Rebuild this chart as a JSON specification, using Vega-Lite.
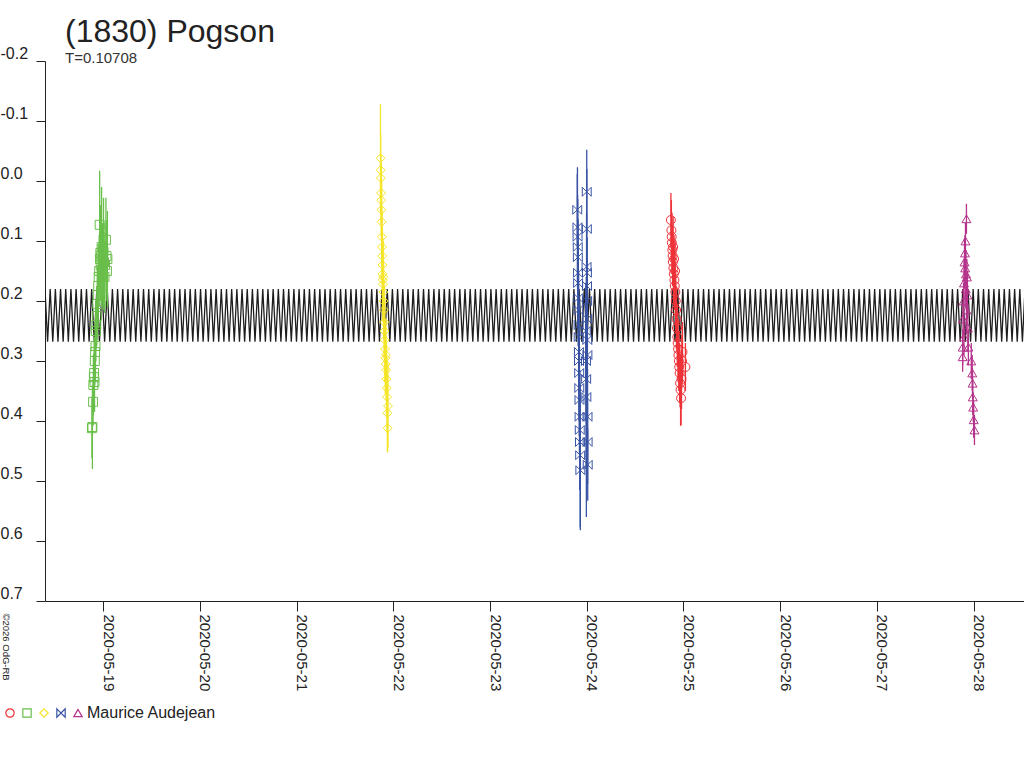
{
  "$schema": "https://vega.github.io/schema/vega-lite/v6.json",
  "width": 979,
  "height": 540,
  "autosize": {"type": "none"},
  "padding": {"left": 45, "top": 61, "right": 0, "bottom": 167},
  "background": "white",
  "view": {"stroke": null},
  "title": {
    "text": "(1830) Pogson",
    "subtitle": "T=0.10708",
    "anchor": "start",
    "frame": "group",
    "dx": 20,
    "offset": -22,
    "font": "Liberation Sans",
    "fontSize": 32,
    "fontWeight": "normal",
    "color": "#222",
    "subtitleFont": "Liberation Sans",
    "subtitleFontSize": 15,
    "subtitleColor": "#333",
    "subtitlePadding": 2
  },
  "datasets": {
    "model": [
      {"d":18.4000,"m":0.18},{"d":18.4268,"m":0.268},{"d":18.4536,"m":0.18},{"d":18.4804,"m":0.268},{"d":18.5072,"m":0.18},{"d":18.5340,"m":0.268},{"d":18.5608,"m":0.18},{"d":18.5876,"m":0.268},{"d":18.6144,"m":0.18},{"d":18.6412,"m":0.268},
      {"d":18.6680,"m":0.18},{"d":18.6948,"m":0.268},{"d":18.7216,"m":0.18},{"d":18.7484,"m":0.268},{"d":18.7752,"m":0.18},{"d":18.8020,"m":0.268},{"d":18.8288,"m":0.18},{"d":18.8556,"m":0.268},{"d":18.8824,"m":0.18},{"d":18.9092,"m":0.268},
      {"d":18.9360,"m":0.18},{"d":18.9628,"m":0.268},{"d":18.9896,"m":0.18},{"d":19.0164,"m":0.268},{"d":19.0432,"m":0.18},{"d":19.0700,"m":0.268},{"d":19.0968,"m":0.18},{"d":19.1236,"m":0.268},{"d":19.1504,"m":0.18},{"d":19.1772,"m":0.268},
      {"d":19.2040,"m":0.18},{"d":19.2308,"m":0.268},{"d":19.2576,"m":0.18},{"d":19.2844,"m":0.268},{"d":19.3112,"m":0.18},{"d":19.3380,"m":0.268},{"d":19.3648,"m":0.18},{"d":19.3916,"m":0.268},{"d":19.4184,"m":0.18},{"d":19.4452,"m":0.268},
      {"d":19.4720,"m":0.18},{"d":19.4988,"m":0.268},{"d":19.5256,"m":0.18},{"d":19.5524,"m":0.268},{"d":19.5792,"m":0.18},{"d":19.6060,"m":0.268},{"d":19.6328,"m":0.18},{"d":19.6596,"m":0.268},{"d":19.6864,"m":0.18},{"d":19.7132,"m":0.268},
      {"d":19.7400,"m":0.18},{"d":19.7668,"m":0.268},{"d":19.7936,"m":0.18},{"d":19.8204,"m":0.268},{"d":19.8472,"m":0.18},{"d":19.8740,"m":0.268},{"d":19.9008,"m":0.18},{"d":19.9276,"m":0.268},{"d":19.9544,"m":0.18},{"d":19.9812,"m":0.268},
      {"d":20.0080,"m":0.18},{"d":20.0348,"m":0.268},{"d":20.0616,"m":0.18},{"d":20.0884,"m":0.268},{"d":20.1152,"m":0.18},{"d":20.1420,"m":0.268},{"d":20.1688,"m":0.18},{"d":20.1956,"m":0.268},{"d":20.2224,"m":0.18},{"d":20.2492,"m":0.268},
      {"d":20.2760,"m":0.18},{"d":20.3028,"m":0.268},{"d":20.3296,"m":0.18},{"d":20.3564,"m":0.268},{"d":20.3832,"m":0.18},{"d":20.4100,"m":0.268},{"d":20.4368,"m":0.18},{"d":20.4636,"m":0.268},{"d":20.4904,"m":0.18},{"d":20.5172,"m":0.268},
      {"d":20.5440,"m":0.18},{"d":20.5708,"m":0.268},{"d":20.5976,"m":0.18},{"d":20.6244,"m":0.268},{"d":20.6512,"m":0.18},{"d":20.6780,"m":0.268},{"d":20.7048,"m":0.18},{"d":20.7316,"m":0.268},{"d":20.7584,"m":0.18},{"d":20.7852,"m":0.268},
      {"d":20.8120,"m":0.18},{"d":20.8388,"m":0.268},{"d":20.8656,"m":0.18},{"d":20.8924,"m":0.268},{"d":20.9192,"m":0.18},{"d":20.9460,"m":0.268},{"d":20.9728,"m":0.18},{"d":20.9996,"m":0.268},{"d":21.0264,"m":0.18},{"d":21.0532,"m":0.268},
      {"d":21.0800,"m":0.18},{"d":21.1068,"m":0.268},{"d":21.1336,"m":0.18},{"d":21.1604,"m":0.268},{"d":21.1872,"m":0.18},{"d":21.2140,"m":0.268},{"d":21.2408,"m":0.18},{"d":21.2676,"m":0.268},{"d":21.2944,"m":0.18},{"d":21.3212,"m":0.268},
      {"d":21.3480,"m":0.18},{"d":21.3748,"m":0.268},{"d":21.4016,"m":0.18},{"d":21.4284,"m":0.268},{"d":21.4552,"m":0.18},{"d":21.4820,"m":0.268},{"d":21.5088,"m":0.18},{"d":21.5356,"m":0.268},{"d":21.5624,"m":0.18},{"d":21.5892,"m":0.268},
      {"d":21.6160,"m":0.18},{"d":21.6428,"m":0.268},{"d":21.6696,"m":0.18},{"d":21.6964,"m":0.268},{"d":21.7232,"m":0.18},{"d":21.7500,"m":0.268},{"d":21.7768,"m":0.18},{"d":21.8036,"m":0.268},{"d":21.8304,"m":0.18},{"d":21.8572,"m":0.268},
      {"d":21.8840,"m":0.18},{"d":21.9108,"m":0.268},{"d":21.9376,"m":0.18},{"d":21.9644,"m":0.268},{"d":21.9912,"m":0.18},{"d":22.0180,"m":0.268},{"d":22.0448,"m":0.18},{"d":22.0716,"m":0.268},{"d":22.0984,"m":0.18},{"d":22.1252,"m":0.268},
      {"d":22.1520,"m":0.18},{"d":22.1788,"m":0.268},{"d":22.2056,"m":0.18},{"d":22.2324,"m":0.268},{"d":22.2592,"m":0.18},{"d":22.2860,"m":0.268},{"d":22.3128,"m":0.18},{"d":22.3396,"m":0.268},{"d":22.3664,"m":0.18},{"d":22.3932,"m":0.268},
      {"d":22.4200,"m":0.18},{"d":22.4468,"m":0.268},{"d":22.4736,"m":0.18},{"d":22.5004,"m":0.268},{"d":22.5272,"m":0.18},{"d":22.5540,"m":0.268},{"d":22.5808,"m":0.18},{"d":22.6076,"m":0.268},{"d":22.6344,"m":0.18},{"d":22.6612,"m":0.268},
      {"d":22.6880,"m":0.18},{"d":22.7148,"m":0.268},{"d":22.7416,"m":0.18},{"d":22.7684,"m":0.268},{"d":22.7952,"m":0.18},{"d":22.8220,"m":0.268},{"d":22.8488,"m":0.18},{"d":22.8756,"m":0.268},{"d":22.9024,"m":0.18},{"d":22.9292,"m":0.268},
      {"d":22.9560,"m":0.18},{"d":22.9828,"m":0.268},{"d":23.0096,"m":0.18},{"d":23.0364,"m":0.268},{"d":23.0632,"m":0.18},{"d":23.0900,"m":0.268},{"d":23.1168,"m":0.18},{"d":23.1436,"m":0.268},{"d":23.1704,"m":0.18},{"d":23.1972,"m":0.268},
      {"d":23.2240,"m":0.18},{"d":23.2508,"m":0.268},{"d":23.2776,"m":0.18},{"d":23.3044,"m":0.268},{"d":23.3312,"m":0.18},{"d":23.3580,"m":0.268},{"d":23.3848,"m":0.18},{"d":23.4116,"m":0.268},{"d":23.4384,"m":0.18},{"d":23.4652,"m":0.268},
      {"d":23.4920,"m":0.18},{"d":23.5188,"m":0.268},{"d":23.5456,"m":0.18},{"d":23.5724,"m":0.268},{"d":23.5992,"m":0.18},{"d":23.6260,"m":0.268},{"d":23.6528,"m":0.18},{"d":23.6796,"m":0.268},{"d":23.7064,"m":0.18},{"d":23.7332,"m":0.268},
      {"d":23.7600,"m":0.18},{"d":23.7868,"m":0.268},{"d":23.8136,"m":0.18},{"d":23.8404,"m":0.268},{"d":23.8672,"m":0.18},{"d":23.8940,"m":0.268},{"d":23.9208,"m":0.18},{"d":23.9476,"m":0.268},{"d":23.9744,"m":0.18},{"d":24.0012,"m":0.268},
      {"d":24.0280,"m":0.18},{"d":24.0548,"m":0.268},{"d":24.0816,"m":0.18},{"d":24.1084,"m":0.268},{"d":24.1352,"m":0.18},{"d":24.1620,"m":0.268},{"d":24.1888,"m":0.18},{"d":24.2156,"m":0.268},{"d":24.2424,"m":0.18},{"d":24.2692,"m":0.268},
      {"d":24.2960,"m":0.18},{"d":24.3228,"m":0.268},{"d":24.3496,"m":0.18},{"d":24.3764,"m":0.268},{"d":24.4032,"m":0.18},{"d":24.4300,"m":0.268},{"d":24.4568,"m":0.18},{"d":24.4836,"m":0.268},{"d":24.5104,"m":0.18},{"d":24.5372,"m":0.268},
      {"d":24.5640,"m":0.18},{"d":24.5908,"m":0.268},{"d":24.6176,"m":0.18},{"d":24.6444,"m":0.268},{"d":24.6712,"m":0.18},{"d":24.6980,"m":0.268},{"d":24.7248,"m":0.18},{"d":24.7516,"m":0.268},{"d":24.7784,"m":0.18},{"d":24.8052,"m":0.268},
      {"d":24.8320,"m":0.18},{"d":24.8588,"m":0.268},{"d":24.8856,"m":0.18},{"d":24.9124,"m":0.268},{"d":24.9392,"m":0.18},{"d":24.9660,"m":0.268},{"d":24.9928,"m":0.18},{"d":25.0196,"m":0.268},{"d":25.0464,"m":0.18},{"d":25.0732,"m":0.268},
      {"d":25.1000,"m":0.18},{"d":25.1268,"m":0.268},{"d":25.1536,"m":0.18},{"d":25.1804,"m":0.268},{"d":25.2072,"m":0.18},{"d":25.2340,"m":0.268},{"d":25.2608,"m":0.18},{"d":25.2876,"m":0.268},{"d":25.3144,"m":0.18},{"d":25.3412,"m":0.268},
      {"d":25.3680,"m":0.18},{"d":25.3948,"m":0.268},{"d":25.4216,"m":0.18},{"d":25.4484,"m":0.268},{"d":25.4752,"m":0.18},{"d":25.5020,"m":0.268},{"d":25.5288,"m":0.18},{"d":25.5556,"m":0.268},{"d":25.5824,"m":0.18},{"d":25.6092,"m":0.268},
      {"d":25.6360,"m":0.18},{"d":25.6628,"m":0.268},{"d":25.6896,"m":0.18},{"d":25.7164,"m":0.268},{"d":25.7432,"m":0.18},{"d":25.7700,"m":0.268},{"d":25.7968,"m":0.18},{"d":25.8236,"m":0.268},{"d":25.8504,"m":0.18},{"d":25.8772,"m":0.268},
      {"d":25.9040,"m":0.18},{"d":25.9308,"m":0.268},{"d":25.9576,"m":0.18},{"d":25.9844,"m":0.268},{"d":26.0112,"m":0.18},{"d":26.0380,"m":0.268},{"d":26.0648,"m":0.18},{"d":26.0916,"m":0.268},{"d":26.1184,"m":0.18},{"d":26.1452,"m":0.268},
      {"d":26.1720,"m":0.18},{"d":26.1988,"m":0.268},{"d":26.2256,"m":0.18},{"d":26.2524,"m":0.268},{"d":26.2792,"m":0.18},{"d":26.3060,"m":0.268},{"d":26.3328,"m":0.18},{"d":26.3596,"m":0.268},{"d":26.3864,"m":0.18},{"d":26.4132,"m":0.268},
      {"d":26.4400,"m":0.18},{"d":26.4668,"m":0.268},{"d":26.4936,"m":0.18},{"d":26.5204,"m":0.268},{"d":26.5472,"m":0.18},{"d":26.5740,"m":0.268},{"d":26.6008,"m":0.18},{"d":26.6276,"m":0.268},{"d":26.6544,"m":0.18},{"d":26.6812,"m":0.268},
      {"d":26.7080,"m":0.18},{"d":26.7348,"m":0.268},{"d":26.7616,"m":0.18},{"d":26.7884,"m":0.268},{"d":26.8152,"m":0.18},{"d":26.8420,"m":0.268},{"d":26.8688,"m":0.18},{"d":26.8956,"m":0.268},{"d":26.9224,"m":0.18},{"d":26.9492,"m":0.268},
      {"d":26.9760,"m":0.18},{"d":27.0028,"m":0.268},{"d":27.0296,"m":0.18},{"d":27.0564,"m":0.268},{"d":27.0832,"m":0.18},{"d":27.1100,"m":0.268},{"d":27.1368,"m":0.18},{"d":27.1636,"m":0.268},{"d":27.1904,"m":0.18},{"d":27.2172,"m":0.268},
      {"d":27.2440,"m":0.18},{"d":27.2708,"m":0.268},{"d":27.2976,"m":0.18},{"d":27.3244,"m":0.268},{"d":27.3512,"m":0.18},{"d":27.3780,"m":0.268},{"d":27.4048,"m":0.18},{"d":27.4316,"m":0.268},{"d":27.4584,"m":0.18},{"d":27.4852,"m":0.268},
      {"d":27.5120,"m":0.18},{"d":27.5388,"m":0.268},{"d":27.5656,"m":0.18},{"d":27.5924,"m":0.268},{"d":27.6192,"m":0.18},{"d":27.6460,"m":0.268},{"d":27.6728,"m":0.18},{"d":27.6996,"m":0.268},{"d":27.7264,"m":0.18},{"d":27.7532,"m":0.268},
      {"d":27.7800,"m":0.18},{"d":27.8068,"m":0.268},{"d":27.8336,"m":0.18},{"d":27.8604,"m":0.268},{"d":27.8872,"m":0.18},{"d":27.9140,"m":0.268},{"d":27.9408,"m":0.18},{"d":27.9676,"m":0.268},{"d":27.9944,"m":0.18},{"d":28.0212,"m":0.268},
      {"d":28.0480,"m":0.18},{"d":28.0748,"m":0.268},{"d":28.1016,"m":0.18},{"d":28.1284,"m":0.268},{"d":28.1552,"m":0.18},{"d":28.1820,"m":0.268},{"d":28.2088,"m":0.18},{"d":28.2356,"m":0.268},{"d":28.2624,"m":0.18},{"d":28.2892,"m":0.268},
      {"d":28.3160,"m":0.18},{"d":28.3428,"m":0.268},{"d":28.3696,"m":0.18},{"d":28.3964,"m":0.268},{"d":28.4232,"m":0.18},{"d":28.4500,"m":0.268},{"d":28.4768,"m":0.18},{"d":28.5036,"m":0.268},{"d":28.5304,"m":0.18}
    ],
    "obs": [
      {"s":"s2","d":18.885,"m":0.412,"e":0.05},{"s":"s2","d":18.890,"m":0.410,"e":0.07},{"s":"s2","d":18.897,"m":0.368,"e":0.04},{"s":"s2","d":18.900,"m":0.340,"e":0.05},
      {"s":"s2","d":18.905,"m":0.327,"e":0.04},{"s":"s2","d":18.908,"m":0.320,"e":0.06},{"s":"s2","d":18.912,"m":0.335,"e":0.05},{"s":"s2","d":18.915,"m":0.300,"e":0.04},
      {"s":"s2","d":18.918,"m":0.285,"e":0.05},{"s":"s2","d":18.922,"m":0.275,"e":0.06},{"s":"s2","d":18.925,"m":0.250,"e":0.05},{"s":"s2","d":18.930,"m":0.240,"e":0.04},
      {"s":"s2","d":18.935,"m":0.225,"e":0.05},{"s":"s2","d":18.940,"m":0.205,"e":0.06},{"s":"s2","d":18.945,"m":0.190,"e":0.05},{"s":"s2","d":18.950,"m":0.175,"e":0.07},
      {"s":"s2","d":18.955,"m":0.160,"e":0.05},{"s":"s2","d":18.960,"m":0.150,"e":0.06},{"s":"s2","d":18.965,"m":0.073,"e":0.09},{"s":"s2","d":18.968,"m":0.130,"e":0.05},
      {"s":"s2","d":18.972,"m":0.120,"e":0.08},{"s":"s2","d":18.976,"m":0.140,"e":0.06},{"s":"s2","d":18.980,"m":0.125,"e":0.05},{"s":"s2","d":18.985,"m":0.110,"e":0.10},
      {"s":"s2","d":18.990,"m":0.155,"e":0.05},{"s":"s2","d":18.995,"m":0.130,"e":0.06},{"s":"s2","d":19.000,"m":0.145,"e":0.07},{"s":"s2","d":19.005,"m":0.118,"e":0.09},
      {"s":"s2","d":19.010,"m":0.135,"e":0.05},{"s":"s2","d":19.015,"m":0.160,"e":0.06},{"s":"s2","d":19.020,"m":0.140,"e":0.07},{"s":"s2","d":19.030,"m":0.098,"e":0.07},
      {"s":"s2","d":19.035,"m":0.125,"e":0.06},{"s":"s2","d":19.040,"m":0.150,"e":0.05},{"s":"s2","d":19.045,"m":0.130,"e":0.08},

      {"s":"s3","d":21.868,"m":-0.038,"e":0.09},{"s":"s3","d":21.870,"m":-0.018,"e":0.06},{"s":"s3","d":21.872,"m":-0.005,"e":0.04},{"s":"s3","d":21.874,"m":0.020,"e":0.05},
      {"s":"s3","d":21.876,"m":0.032,"e":0.06},{"s":"s3","d":21.878,"m":0.048,"e":0.05},{"s":"s3","d":21.880,"m":0.068,"e":0.07},{"s":"s3","d":21.882,"m":0.093,"e":0.05},
      {"s":"s3","d":21.884,"m":0.110,"e":0.06},{"s":"s3","d":21.886,"m":0.125,"e":0.05},{"s":"s3","d":21.888,"m":0.140,"e":0.06},{"s":"s3","d":21.890,"m":0.155,"e":0.05},
      {"s":"s3","d":21.892,"m":0.165,"e":0.07},{"s":"s3","d":21.894,"m":0.172,"e":0.05},{"s":"s3","d":21.896,"m":0.160,"e":0.06},{"s":"s3","d":21.898,"m":0.185,"e":0.05},
      {"s":"s3","d":21.900,"m":0.200,"e":0.06},{"s":"s3","d":21.903,"m":0.215,"e":0.05},{"s":"s3","d":21.906,"m":0.235,"e":0.06},{"s":"s3","d":21.909,"m":0.250,"e":0.05},
      {"s":"s3","d":21.912,"m":0.265,"e":0.07},{"s":"s3","d":21.915,"m":0.280,"e":0.05},{"s":"s3","d":21.918,"m":0.295,"e":0.06},{"s":"s3","d":21.921,"m":0.305,"e":0.05},
      {"s":"s3","d":21.924,"m":0.290,"e":0.06},{"s":"s3","d":21.927,"m":0.315,"e":0.05},{"s":"s3","d":21.930,"m":0.330,"e":0.06},{"s":"s3","d":21.933,"m":0.345,"e":0.05},
      {"s":"s3","d":21.936,"m":0.360,"e":0.06},{"s":"s3","d":21.939,"m":0.387,"e":0.065},{"s":"s3","d":21.942,"m":0.412,"e":0.04},{"s":"s3","d":21.945,"m":0.375,"e":0.07},

      {"s":"s4","d":23.902,"m":0.048,"e":0.06},{"s":"s4","d":23.904,"m":0.077,"e":0.10},{"s":"s4","d":23.905,"m":0.093,"e":0.07},{"s":"s4","d":23.907,"m":0.110,"e":0.08},
      {"s":"s4","d":23.908,"m":0.127,"e":0.06},{"s":"s4","d":23.910,"m":0.153,"e":0.09},{"s":"s4","d":23.911,"m":0.170,"e":0.07},{"s":"s4","d":23.913,"m":0.195,"e":0.08},
      {"s":"s4","d":23.914,"m":0.215,"e":0.06},{"s":"s4","d":23.916,"m":0.240,"e":0.09},{"s":"s4","d":23.917,"m":0.260,"e":0.07},{"s":"s4","d":23.919,"m":0.285,"e":0.08},
      {"s":"s4","d":23.920,"m":0.300,"e":0.10},{"s":"s4","d":23.922,"m":0.320,"e":0.07},{"s":"s4","d":23.923,"m":0.345,"e":0.08},{"s":"s4","d":23.925,"m":0.365,"e":0.09},
      {"s":"s4","d":23.926,"m":0.393,"e":0.07},{"s":"s4","d":23.928,"m":0.415,"e":0.10},{"s":"s4","d":23.930,"m":0.435,"e":0.08},{"s":"s4","d":23.932,"m":0.457,"e":0.12},
      {"s":"s4","d":23.934,"m":0.482,"e":0.10},
      {"s":"s4","d":23.990,"m":0.250,"e":0.08},{"s":"s4","d":23.992,"m":0.300,"e":0.10},{"s":"s4","d":23.994,"m":0.330,"e":0.15},{"s":"s4","d":23.996,"m":0.360,"e":0.20},
      {"s":"s4","d":23.998,"m":0.143,"e":0.09},{"s":"s4","d":24.000,"m":0.018,"e":0.07},{"s":"s4","d":24.001,"m":0.080,"e":0.10},{"s":"s4","d":24.002,"m":0.153,"e":0.06},
      {"s":"s4","d":24.003,"m":0.175,"e":0.08},{"s":"s4","d":24.004,"m":0.200,"e":0.07},{"s":"s4","d":24.005,"m":0.230,"e":0.09},{"s":"s4","d":24.006,"m":0.265,"e":0.08},
      {"s":"s4","d":24.007,"m":0.290,"e":0.07},{"s":"s4","d":24.008,"m":0.393,"e":0.08},{"s":"s4","d":24.009,"m":0.435,"e":0.07},{"s":"s4","d":24.010,"m":0.473,"e":0.06},

      {"s":"s1","d":24.870,"m":0.065,"e":0.045},{"s":"s1","d":24.875,"m":0.082,"e":0.05},{"s":"s1","d":24.878,"m":0.093,"e":0.04},{"s":"s1","d":24.880,"m":0.103,"e":0.05},
      {"s":"s1","d":24.885,"m":0.115,"e":0.04},{"s":"s1","d":24.888,"m":0.125,"e":0.05},{"s":"s1","d":24.890,"m":0.135,"e":0.04},{"s":"s1","d":24.893,"m":0.110,"e":0.05},
      {"s":"s1","d":24.896,"m":0.145,"e":0.04},{"s":"s1","d":24.900,"m":0.155,"e":0.05},{"s":"s1","d":24.903,"m":0.130,"e":0.04},{"s":"s1","d":24.906,"m":0.165,"e":0.05},
      {"s":"s1","d":24.910,"m":0.175,"e":0.04},{"s":"s1","d":24.913,"m":0.150,"e":0.05},{"s":"s1","d":24.916,"m":0.185,"e":0.04},{"s":"s1","d":24.920,"m":0.200,"e":0.05},
      {"s":"s1","d":24.924,"m":0.215,"e":0.04},{"s":"s1","d":24.928,"m":0.230,"e":0.05},{"s":"s1","d":24.932,"m":0.245,"e":0.04},{"s":"s1","d":24.936,"m":0.260,"e":0.05},
      {"s":"s1","d":24.940,"m":0.270,"e":0.04},{"s":"s1","d":24.944,"m":0.280,"e":0.05},{"s":"s1","d":24.948,"m":0.290,"e":0.04},{"s":"s1","d":24.952,"m":0.300,"e":0.05},
      {"s":"s1","d":24.956,"m":0.310,"e":0.04},{"s":"s1","d":24.960,"m":0.320,"e":0.05},{"s":"s1","d":24.965,"m":0.337,"e":0.04},{"s":"s1","d":24.970,"m":0.348,"e":0.06},
      {"s":"s1","d":24.975,"m":0.362,"e":0.045},{"s":"s1","d":24.980,"m":0.330,"e":0.05},{"s":"s1","d":24.985,"m":0.300,"e":0.04},{"s":"s1","d":24.990,"m":0.285,"e":0.05},
      {"s":"s1","d":25.020,"m":0.310,"e":0.04},

      {"s":"s5","d":27.925,"m":0.063,"e":0.025},{"s":"s5","d":27.915,"m":0.100,"e":0.03},{"s":"s5","d":27.910,"m":0.120,"e":0.03},{"s":"s5","d":27.905,"m":0.135,"e":0.04},
      {"s":"s5","d":27.912,"m":0.145,"e":0.03},{"s":"s5","d":27.920,"m":0.155,"e":0.04},{"s":"s5","d":27.930,"m":0.160,"e":0.03},{"s":"s5","d":27.900,"m":0.170,"e":0.04},
      {"s":"s5","d":27.918,"m":0.180,"e":0.03},{"s":"s5","d":27.935,"m":0.190,"e":0.04},{"s":"s5","d":27.895,"m":0.200,"e":0.03},{"s":"s5","d":27.925,"m":0.215,"e":0.04},
      {"s":"s5","d":27.890,"m":0.230,"e":0.03},{"s":"s5","d":27.940,"m":0.245,"e":0.04},{"s":"s5","d":27.900,"m":0.260,"e":0.03},{"s":"s5","d":27.886,"m":0.277,"e":0.03},
      {"s":"s5","d":27.945,"m":0.277,"e":0.03},{"s":"s5","d":27.886,"m":0.293,"e":0.025},{"s":"s5","d":27.975,"m":0.300,"e":0.03},{"s":"s5","d":27.985,"m":0.320,"e":0.03},
      {"s":"s5","d":27.988,"m":0.337,"e":0.025},{"s":"s5","d":27.990,"m":0.360,"e":0.03},{"s":"s5","d":27.995,"m":0.377,"e":0.025},{"s":"s5","d":28.000,"m":0.398,"e":0.03},
      {"s":"s5","d":28.008,"m":0.415,"e":0.025}
    ]
  },
  "encoding": {
    "x": {
      "field": "d",
      "type": "quantitative",
      "scale": {"domain": [18.4, 28.52], "nice": false, "zero": false},
      "axis": {
        "title": null,
        "grid": false,
        "values": [19, 20, 21, 22, 23, 24, 25, 26, 27, 28],
        "labelExpr": "'2020-05-' + datum.value",
        "labelAngle": 90,
        "labelAlign": "left",
        "labelBaseline": "alphabetic",
        "labelFont": "Liberation Sans",
        "labelFontSize": 15,
        "labelColor": "#222",
        "labelPadding": 3,
        "labelOverlap": false,
        "labelFlush": false,
        "tickSize": 10,
        "tickColor": "#222",
        "domainColor": "#222"
      }
    },
    "y": {
      "field": "m",
      "type": "quantitative",
      "scale": {"domain": [-0.2, 0.7], "reverse": true, "nice": false, "zero": false},
      "axis": {
        "grid": false,
        "values": [-0.2, -0.1, 0, 0.1, 0.2, 0.3, 0.4, 0.5, 0.6, 0.7],
        "labelExpr": "(datum.value < 0 ? '-' : '') + format(abs(datum.value), '.1f')",
        "labelAlign": "left",
        "labelBaseline": "alphabetic",
        "labelOffset": -3,
        "labelPadding": 36,
        "labelFont": "Liberation Sans",
        "labelFontSize": 16,
        "labelColor": "#222",
        "tickSize": 9,
        "tickColor": "#222",
        "domainColor": "#222",
        "title": "©2026 OdG-RB",
        "titleAngle": 90,
        "titleX": -45,
        "titleY": 552,
        "titleAlign": "left",
        "titleBaseline": "bottom",
        "titleFont": "Liberation Sans",
        "titleFontSize": 9.5,
        "titleFontWeight": "normal",
        "titleColor": "#222"
      }
    }
  },
  "layer": [
    {
      "data": {"name": "model"},
      "mark": {"type": "line", "color": "#1e1e1e", "strokeWidth": 1.3, "clip": true},
      "encoding": {}
    },
    {
      "data": {"name": "obs"},
      "mark": {"type": "errorbar", "thickness": 1.3, "clip": true},
      "encoding": {
        "yError": {"field": "e"},
        "color": {"field": "s", "type": "nominal"}
      }
    },
    {
      "data": {"name": "obs"},
      "mark": {"type": "point", "filled": false, "size": 80, "strokeWidth": 1, "opacity": 1, "clip": true},
      "encoding": {
        "color": {
          "field": "s",
          "type": "nominal",
          "scale": {
            "domain": ["s1", "s2", "s3", "s4", "s5"],
            "range": ["#ee3338", "#6abf4b", "#f5e52a", "#3953a4", "#b5338a"]
          },
          "legend": {
            "title": null,
            "orient": "none",
            "legendX": -43,
            "legendY": 644,
            "direction": "horizontal",
            "gridAlign": "none",
            "labelExpr": "datum.value == 's5' ? 'Maurice Audejean' : ''",
            "labelFont": "Liberation Sans",
            "labelFontSize": 16,
            "labelColor": "#222",
            "labelOffset": 1,
            "columnPadding": 0,
            "symbolSize": 70,
            "symbolStrokeWidth": 1.2
          }
        },
        "shape": {
          "field": "s",
          "type": "nominal",
          "scale": {
            "domain": ["s1", "s2", "s3", "s4", "s5"],
            "range": ["circle", "square", "diamond", "M-1,-1L1,1L1,-1L-1,1Z", "triangle-up"]
          },
          "legend": {
            "title": null,
            "orient": "none",
            "legendX": -43,
            "legendY": 644,
            "direction": "horizontal",
            "gridAlign": "none",
            "labelExpr": "datum.value == 's5' ? 'Maurice Audejean' : ''",
            "labelFont": "Liberation Sans",
            "labelFontSize": 16,
            "labelColor": "#222",
            "labelOffset": 1,
            "columnPadding": 0,
            "symbolSize": 70,
            "symbolStrokeWidth": 1.2
          }
        }
      }
    }
  ]
}
